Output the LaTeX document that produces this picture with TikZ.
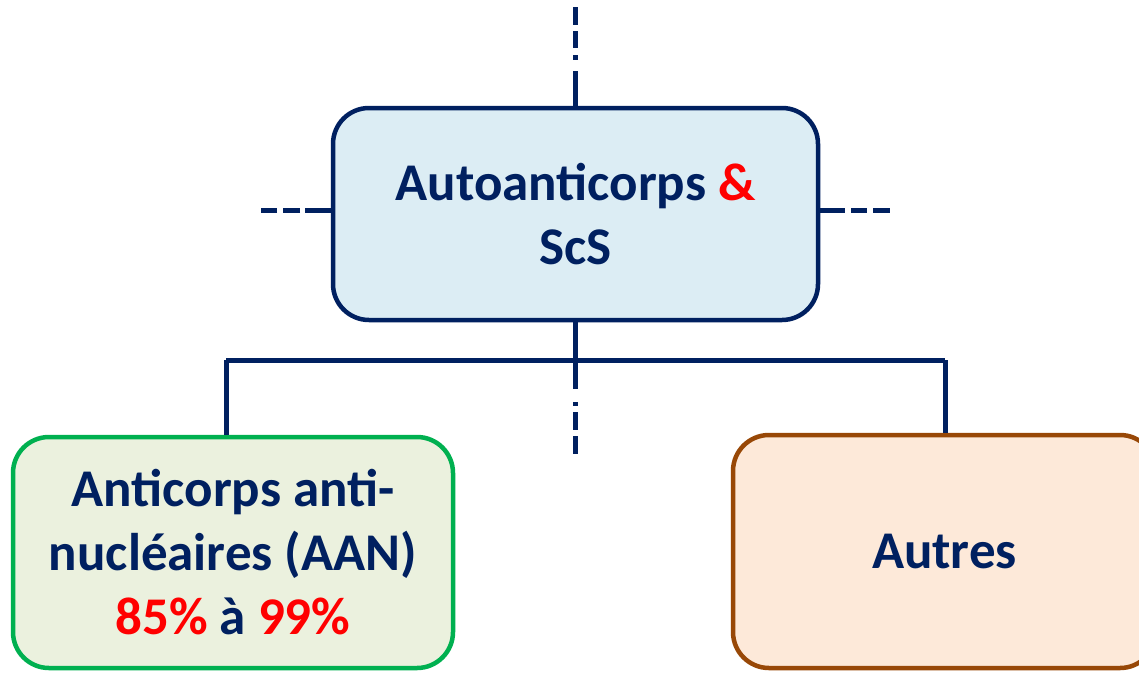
\documentclass[tikz,border=0pt]{standalone}
\usepackage{fontspec}
\setmainfont{Carlito}
\definecolor{navy}{HTML}{002060}
\definecolor{boxblue}{HTML}{DCEDF4}
\definecolor{boxgreen}{HTML}{EBF1DE}
\definecolor{boxorange}{HTML}{FDE9D9}
\definecolor{green}{HTML}{00B050}
\definecolor{brown}{HTML}{984807}
\definecolor{red}{HTML}{FF0000}
\tikzset{
  boxstyle/.style={rectangle, rounded corners=36pt, line width=4.5pt, align=center,
    text=navy, font=\bfseries\fontsize{53}{64}\selectfont, inner sep=0pt},
  link/.style={draw=navy, line width=5pt},
}
\begin{document}
\begin{tikzpicture}[x=1pt,y=-1pt]
\useasboundingbox (0,0) rectangle (1139,672);
\clip (0,0) rectangle (1139,672);
\node[boxstyle, draw=navy, fill=boxblue, minimum width=485pt, minimum height=212pt] (top) at (575.5,214) {Autoanticorps \textcolor{red}{\&}\\ScS};
\node[boxstyle, draw=green, fill=boxgreen, minimum width=440pt, minimum height=231pt] (aan) at (233,552.5) {Anticorps anti-\\nucléaires (AAN)\\\textcolor{red}{85\%} à \textcolor{red}{99\%}};
\node[boxstyle, draw=brown, fill=boxorange, minimum width=423pt, minimum height=233pt] (autres) at (944.5,551.5) {Autres};
% bus
\coordinate (bus) at (575.5,360);
\coordinate (busL) at (226,360);
\coordinate (busR) at (945,360);
\draw[link] (top.south) -- (bus) -- (575.5,389);
\draw[link] (busL) -- (busR);
\draw[link] (busL) -- (busL |- aan.north);
\draw[link] (busR) -- (busR |- autres.north);
% dashes below
\draw[link] (575.5,402) -- (575.5,406);
\draw[link] (575.5,412) -- (575.5,430);
\draw[link] (575.5,436) -- (575.5,454);
% top
\draw[link] (top.north) -- (575.5,71);
\draw[link] (575.5,55) -- (575.5,60);
\draw[link] (575.5,31) -- (575.5,48);
\draw[link] (575.5,7) -- (575.5,25);
% left
\coordinate (lend) at (305,210);
\draw[link] (top.west |- lend) -- (lend);
\draw[link] (300,210) -- (283,210);
\draw[link] (277,210) -- (261,210);
% right
\coordinate (rend) at (845,210);
\draw[link] (top.east |- rend) -- (rend);
\draw[link] (851,210) -- (867,210);
\draw[link] (873,210) -- (890,210);
\end{tikzpicture}
\end{document}
